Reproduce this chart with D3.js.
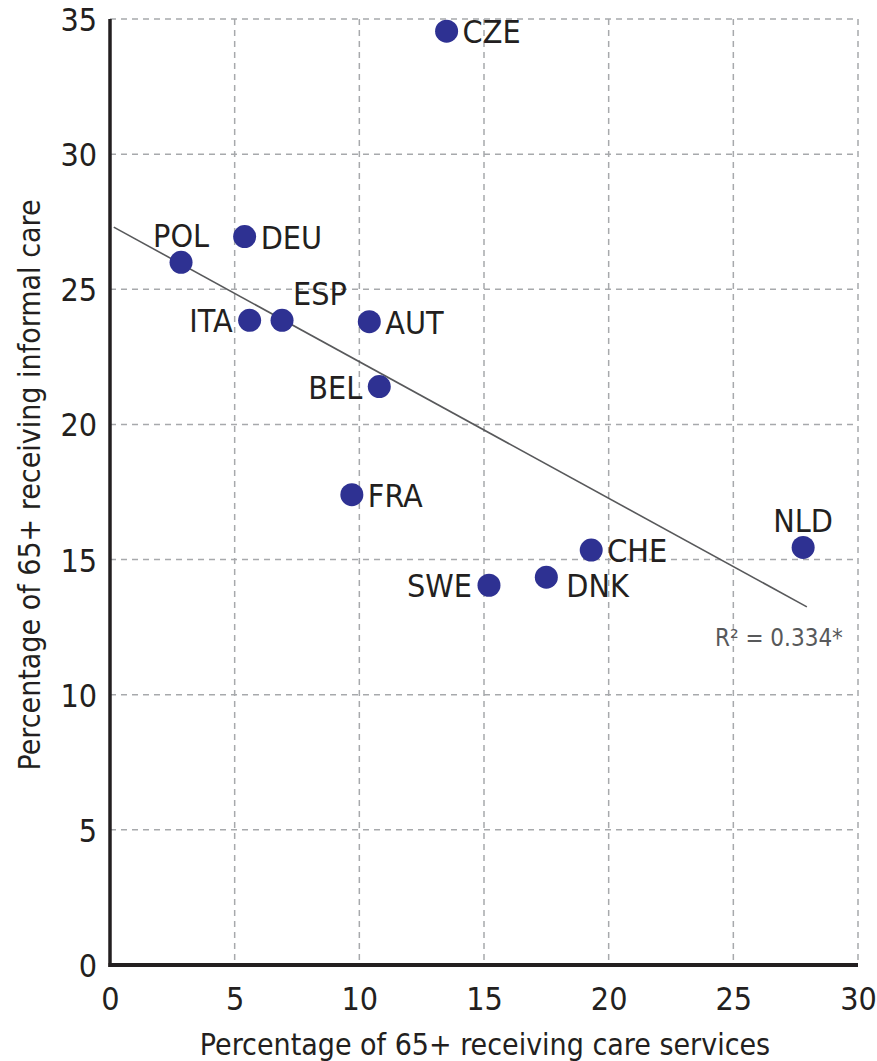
<!DOCTYPE html>
<html>
<head>
<meta charset="utf-8">
<script src="https://cdn.jsdelivr.net/npm/d3@7"></script>
<style>
  body { margin: 0; background: #fff; }
  text { font-family: "DejaVu Sans Condensed", "Liberation Sans", sans-serif; fill: #231f20; }
</style>
</head>
<body>
<div id="wrapper"></div>
<script>
// values
const countries = ["CZE", "POL", "DEU", "ITA", "ESP", "AUT", "BEL", "FRA", "SWE", "DNK", "CHE", "NLD"]
const careServices = [13.5, 2.85, 5.4, 5.6, 6.9, 10.4, 10.8, 9.7, 15.2, 17.5, 19.3, 27.8]
const informalCare = [34.55, 26.0, 26.95, 23.85, 23.85, 23.8, 21.4, 17.4, 14.05, 14.35, 15.35, 15.45]
const trendX = [0.15, 27.95]
const trendY = [27.3, 13.25]
const xTicks = [0, 5, 10, 15, 20, 25, 30]
const yTicks = [0, 5, 10, 15, 20, 25, 30, 35]
const rSquaredLabel = "R² = 0.334*"

function drawScatter() {

  const dataset = countries.map((c, i) => ({ country: c, x: careServices[i], y: informalCare[i] }))

  // where each country label goes relative to its dot
  const labelSide = {
    CZE: "right", POL: "above", DEU: "right", ITA: "left", ESP: "aboveRight", AUT: "right",
    BEL: "left", FRA: "right", SWE: "left", DNK: "rightLow", CHE: "right", NLD: "above",
  }

  let dimensions = {
    width: 877,
    height: 1061,
    margin: { top: 19, right: 19, bottom: 96, left: 110 },
  }
  dimensions.boundedWidth = dimensions.width - dimensions.margin.left - dimensions.margin.right
  dimensions.boundedHeight = dimensions.height - dimensions.margin.top - dimensions.margin.bottom

  const wrapper = d3.select("#wrapper")
    .append("svg")
      .attr("width", dimensions.width)
      .attr("height", dimensions.height)

  const bounds = wrapper.append("g")
      .attr("transform", `translate(${dimensions.margin.left},${dimensions.margin.top})`)

  const xScale = d3.scaleLinear()
    .domain([0, 30])
    .range([0, dimensions.boundedWidth])

  const yScale = d3.scaleLinear()
    .domain([0, 35])
    .range([dimensions.boundedHeight, 0])

  // grid
  const grid = bounds.append("g")
      .attr("stroke", "#a7a9ac")
      .attr("stroke-width", 1.5)
      .attr("stroke-dasharray", "6,5")
  grid.selectAll(".v")
    .data(xTicks.filter(d => d > 0))
    .join("line")
      .attr("x1", d => xScale(d))
      .attr("x2", d => xScale(d))
      .attr("y1", yScale(35))
      .attr("y2", yScale(0))
  grid.selectAll(".h")
    .data(yTicks.filter(d => d > 0))
    .join("line")
      .attr("x1", xScale(0))
      .attr("x2", xScale(30))
      .attr("y1", d => yScale(d))
      .attr("y2", d => yScale(d))

  // axes
  const xAxis = d3.axisBottom(xScale).tickValues(xTicks).tickSize(0).tickPadding(22)
  const yAxis = d3.axisLeft(yScale).tickValues(yTicks).tickSize(0).tickPadding(13)

  const xAxisGroup = bounds.append("g")
      .attr("transform", `translate(0,${dimensions.boundedHeight})`)
      .call(xAxis)
  const yAxisGroup = bounds.append("g")
      .call(yAxis)

  ;[xAxisGroup, yAxisGroup].forEach(g => {
    g.select(".domain").remove()
    g.selectAll("text")
        .attr("font-family", null)
        .style("font-size", "32px")
  })
  xAxisGroup.selectAll("text").attr("dy", "0.71em")
  yAxisGroup.selectAll("text").attr("dy", "0.36em")

  bounds.append("line")
      .attr("x1", xScale(0)).attr("x2", xScale(0))
      .attr("y1", yScale(35)).attr("y2", yScale(0) + 2)
      .attr("stroke", "#231f20")
      .attr("stroke-width", 3.5)
  bounds.append("line")
      .attr("x1", xScale(0) - 1.5).attr("x2", xScale(30))
      .attr("y1", yScale(0)).attr("y2", yScale(0))
      .attr("stroke", "#231f20")
      .attr("stroke-width", 4)

  // trend line
  bounds.append("line")
      .attr("x1", xScale(trendX[0])).attr("y1", yScale(trendY[0]))
      .attr("x2", xScale(trendX[1])).attr("y2", yScale(trendY[1]))
      .attr("stroke", "#58595b")
      .attr("stroke-width", 1.6)

  bounds.append("text")
      .attr("x", xScale(trendX[1]) - 92)
      .attr("y", yScale(trendY[1]) + 39)
      .style("font-size", "24px")
      .style("fill", "#58595b")
      .text(rSquaredLabel)

  // dots
  bounds.append("g")
    .selectAll("circle")
    .data(dataset)
    .join("circle")
      .attr("cx", d => xScale(d.x))
      .attr("cy", d => yScale(d.y))
      .attr("r", 11.5)
      .attr("fill", "#2e3192")

  const offsets = {
    right:      { dx: 16, dy: 12, anchor: "start" },
    rightLow:   { dx: 20, dy: 20, anchor: "start" },
    left:       { dx: -17, dy: 12, anchor: "end" },
    above:      { dx: 0, dy: -15, anchor: "middle" },
    aboveRight: { dx: 11, dy: -15, anchor: "start" },
  }

  bounds.append("g")
    .selectAll("text")
    .data(dataset)
    .join("text")
      .attr("x", d => xScale(d.x) + offsets[labelSide[d.country]].dx)
      .attr("y", d => yScale(d.y) + offsets[labelSide[d.country]].dy)
      .attr("text-anchor", d => offsets[labelSide[d.country]].anchor)
      .style("font-size", "32px")
      .text(d => d.country)

  // axis titles
  wrapper.append("text")
      .attr("x", 485)
      .attr("y", 1055)
      .attr("text-anchor", "middle")
      .style("font-size", "30px")
      .text("Percentage of 65+ receiving care services")

  wrapper.append("text")
      .attr("transform", `translate(40,485) rotate(-90)`)
      .attr("text-anchor", "middle")
      .style("font-size", "30px")
      .text("Percentage of 65+ receiving informal care")
}
drawScatter()
</script>
</body>
</html>
